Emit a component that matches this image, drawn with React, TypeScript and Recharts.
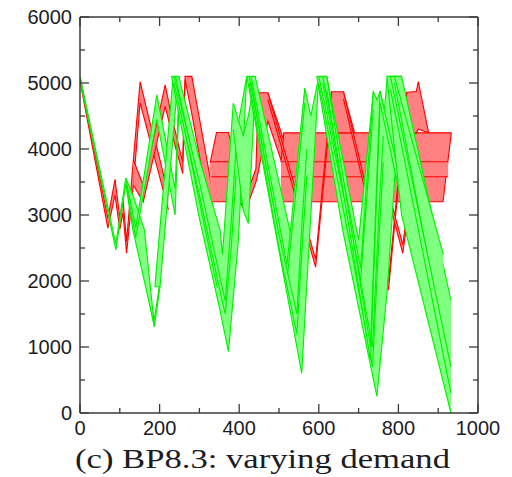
import React from 'react';
import { ComposedChart, Area, XAxis, YAxis } from 'recharts';

// ---- axis ticks ----
const xTicks = [0, 100, 200, 300, 400, 500, 600, 700, 800, 900, 1000];
const xMajor = [0, 200, 400, 600, 800, 1000];
const yTicks = [0, 500, 1000, 1500, 2000, 2500, 3000, 3500, 4000, 4500, 5000, 5500, 6000];
const yMajor = [0, 1000, 2000, 3000, 4000, 5000, 6000];
const title = '(c) BP8.3: varying demand';

// ---- series: rows are [x, lower, upper] ----
type Row = [number, number, number];

// red bands
const redThinA: Row[] = [[0, 5030, 5100], [70, 2800, 2950], [88, 3300, 3540], [100, 2780, 2960], [108, 3030, 3230], [117, 2420, 2600], [134, 3450, 3833], [151, 4700, 5020], [175, 4150, 4420], [197, 3650, 3935], [222, 3075, 3300]];
const redThinB: Row[] = [[134, 3450, 3833], [159, 3200, 3450], [214, 4650, 4970], [230, 4250, 4500], [258, 3630, 3800]];
const redBig: Row[] = [[258, 3630, 3800], [264, 5050, 5100], [281, 4532, 5100], [320, 3230, 3797], [337, 3230, 3230]];
const redRect1: Row[] = [[327, 3200, 3790], [343, 3200, 4250], [373, 3200, 4250], [402, 3200, 3580], [415, 3050, 3250]];
const redRise2: Row[] = [[415, 3050, 3250], [442, 3500, 3700], [448, 3650, 4853], [472, 4423, 4853], [505, 3833, 4262], [528, 3800, 3833]];
const redRect2: Row[] = [[505, 3200, 3800], [512, 3200, 4245], [912, 3200, 4245], [933, 4245, 4245]];
const redLines1: Row[] = [[330, 3580, 3807], [400, 3580, 3807]];
const redLines2: Row[] = [[505, 3580, 3807], [925, 3580, 3807]];
const redPeak3: Row[] = [[622, 4245, 4245], [632, 4245, 4868], [662, 4245, 4868], [690, 4245, 4245]];
const redPeak4: Row[] = [[815, 4245, 4245], [821, 4245, 4860], [845, 4245, 4870], [850, 4300, 5020], [876, 4245, 4245]];
const redDrop1: Row[] = [[472, 4750, 4853], [592, 2210, 2330], [632, 4700, 4868]];
const redDrop2: Row[] = [[662, 4760, 4868], [775, 1860, 1990], [821, 4760, 4860]];
const redDrop3: Row[] = [[735, 4150, 4245], [811, 2420, 2550], [827, 3120, 3250]];

// green bands
const gEarly: Row[] = [[0, 5040, 5100], [90, 2470, 2560], [115, 3470, 3560], [187, 1310, 1420], [201, 1913, 2000]];
const gWedge1: Row[] = [[115, 3470, 3560], [133, 2770, 3300], [162, 1987, 2770], [187, 1310, 1310]];
const gB: Row[] = [[115, 3480, 3555], [140, 2660, 2800], [193, 4450, 4820], [239, 3000, 3400], [250, 4900, 5100]];
const gRise1: Row[] = [[188, 1913, 1913], [201, 1913, 2812], [234, 4196, 5095], [247, 5095, 5095]];
const gCycle1: Row[] = [[230, 5100, 5100], [248, 4540, 5100], [300, 2950, 3850], [352, 1550, 2770], [358, 1370, 2400], [373, 930, 3670], [385, 1741, 4690], [398, 2620, 4400], [419, 5100, 5100]];
const gIn1: Row[] = [[240, 4950, 5100], [345, 1900, 2150]];
const gIn1b: Row[] = [[236, 5000, 5100], [300, 3300, 3500], [350, 1900, 2100], [365, 1500, 1700], [380, 2500, 2900], [392, 3600, 4000]];
const gD: Row[] = [[385, 4300, 4690], [410, 3075, 4200], [423, 2870, 4500], [440, 4900, 5100]];
const gCycle2: Row[] = [[419, 5100, 5100], [440, 4415, 5100], [530, 1481, 2700], [557, 600, 4400], [565, 1437, 4920], [580, 3007, 4500], [600, 5100, 5100]];
const gIn2: Row[] = [[430, 5000, 5100], [520, 2000, 2250], [565, 4700, 4920]];
const gIn2b: Row[] = [[425, 5000, 5100], [500, 2500, 2700], [545, 1200, 1500], [557, 2400, 2800], [570, 3600, 4000]];
const gCycle3: Row[] = [[595, 5100, 5100], [620, 4204, 5100], [660, 2770, 3860], [700, 1598, 2620], [737, 514, 4870], [746, 250, 4750], [754, 746, 4870], [765, 1427, 4600], [772, 1860, 5100], [808, 5100, 5100]];
const gIn3: Row[] = [[610, 5000, 5100], [705, 2000, 2200], [737, 4600, 4870]];
const gIn3b: Row[] = [[600, 5000, 5100], [690, 2200, 2500], [735, 700, 1000], [750, 2500, 2900], [762, 3800, 4200]];
const gIn4: Row[] = [[620, 4900, 5100], [730, 800, 1000], [754, 4700, 4870]];
const gIn7: Row[] = [[754, 4700, 4870], [840, 2300, 2600], [850, 2700, 2900]];
const gCycle4: Row[] = [[771, 5100, 5100], [808, 3000, 5100], [932, 0, 1710]];
const gIn5: Row[] = [[790, 5000, 5100], [913, 1135, 2400]];
const gIn6: Row[] = [[780, 4900, 5100], [932, 300, 700]];

const redSeries: Row[][] = [redThinA, redThinB, redBig, redRect1, redRise2, redRect2, redLines1, redLines2, redPeak3, redPeak4, redDrop1, redDrop2, redDrop3];
const greenSeries: Row[][] = [gEarly, gWedge1, gB, gRise1, gCycle1, gIn1, gIn1b, gD, gCycle2, gIn2, gIn2b, gCycle3, gIn3, gIn3b, gIn4, gIn7, gCycle4, gIn5, gIn6];

const toData = (rows: Row[]) => rows.map(([x, lo, hi]) => ({ x, band: [lo, hi] }));

const AXIS = '#3a3a3a';
const LABEL_FONT = '"Liberation Sans", Arial, Helvetica, sans-serif';

const BottomTick = (props: any) => {
  const { x, y, payload } = props;
  const v = payload.value as number;
  const major = xMajor.includes(v);
  return (
    <g>
      <line x1={x} y1={y} x2={x} y2={y - (major ? 9 : 5)} stroke={AXIS} strokeWidth={1.3} />
      {major && (
        <text x={x} y={y + 22} textAnchor="middle" fontFamily={LABEL_FONT} fontSize={20} fill="#1c1c24">{v}</text>
      )}
    </g>
  );
};
const TopTick = (props: any) => {
  const { x, y, payload } = props;
  const major = xMajor.includes(payload.value);
  return <line x1={x} y1={y} x2={x} y2={y + (major ? 9 : 5)} stroke={AXIS} strokeWidth={1.3} />;
};
const LeftTick = (props: any) => {
  const { x, y, payload } = props;
  const v = payload.value as number;
  const major = yMajor.includes(v);
  return (
    <g>
      <line x1={x} y1={y} x2={x + (major ? 9 : 5)} y2={y} stroke={AXIS} strokeWidth={1.3} />
      {major && (
        <text x={x - 8} y={y + 7} textAnchor="end" fontFamily={LABEL_FONT} fontSize={20} fill="#1c1c24">{v}</text>
      )}
    </g>
  );
};
const RightTick = (props: any) => {
  const { x, y, payload } = props;
  const major = yMajor.includes(payload.value);
  return <line x1={x} y1={y} x2={x - (major ? 9 : 5)} y2={y} stroke={AXIS} strokeWidth={1.3} />;
};

export default function App() {
  return (
    <div style={{ position: 'absolute', left: 0, top: 0, width: 512, height: 477, background: '#fff' }}>
      <ComposedChart width={512} height={477} margin={{ top: 16, right: 33, bottom: 63, left: 79 }}>
        <XAxis xAxisId="b" dataKey="x" type="number" domain={[0, 1000]} allowDataOverflow ticks={xTicks} interval={0}
          height={1} tickSize={0} tickMargin={0} tickLine={false} tick={<BottomTick />} axisLine={{ stroke: AXIS, strokeWidth: 1.5 }} />
        <XAxis xAxisId="t" orientation="top" dataKey="x" type="number" domain={[0, 1000]} allowDataOverflow ticks={xTicks} interval={0}
          height={1} tickSize={0} tickMargin={0} tickLine={false} tick={<TopTick />} axisLine={{ stroke: AXIS, strokeWidth: 1.5 }} />
        <YAxis yAxisId="l" type="number" domain={[0, 6000]} allowDataOverflow ticks={yTicks} interval={0}
          width={1} tickSize={0} tickMargin={0} tickLine={false} tick={<LeftTick />} axisLine={{ stroke: AXIS, strokeWidth: 1.5 }} />
        <YAxis yAxisId="r" orientation="right" type="number" domain={[0, 6000]} allowDataOverflow ticks={yTicks} interval={0}
          width={1} tickSize={0} tickMargin={0} tickLine={false} tick={<RightTick />} axisLine={{ stroke: AXIS, strokeWidth: 1.5 }} />
        {redSeries.map((rows, i) => (
          <Area key={'r' + i} xAxisId="b" yAxisId="l" data={toData(rows)} dataKey="band" type="linear"
            stroke="#ff0000" strokeWidth={1.1} fill="#ff8080" fillOpacity={1} dot={false} activeDot={false}
            isAnimationActive={false} />
        ))}
        {greenSeries.map((rows, i) => (
          <Area key={'g' + i} xAxisId="b" yAxisId="l" data={toData(rows)} dataKey="band" type="linear"
            stroke="#00f000" strokeWidth={1.1} fill="#80ff80" fillOpacity={1} dot={false} activeDot={false}
            isAnimationActive={false} />
        ))}
      </ComposedChart>
      <svg width={512} height={477} style={{ position: 'absolute', left: 0, top: 0, pointerEvents: 'none' }}>
        <text x={262.5} y={468} textAnchor="middle" fontFamily='"Liberation Serif", "Times New Roman", serif' fontSize={27}
          textLength={375} lengthAdjust="spacingAndGlyphs" fill="#1c1c24">{title}</text>
      </svg>
    </div>
  );
}
